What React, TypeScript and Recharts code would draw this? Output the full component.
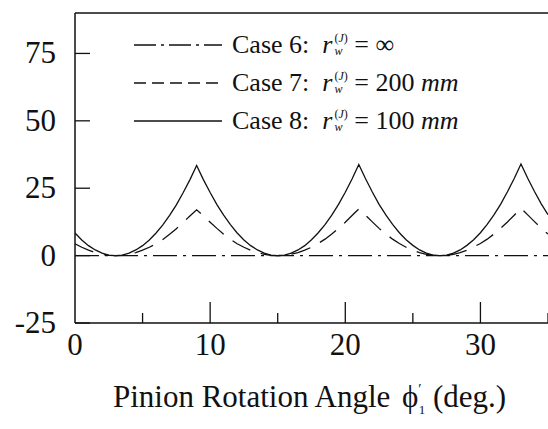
import React from "react";
import { LineChart, Line, XAxis, YAxis, ReferenceLine, Legend, Label } from "recharts";

// pinion rotation angle, deg.
const angle = [
  0, 0.5, 1, 1.5, 2, 2.5, 3, 3.5, 4, 4.5, 5, 5.5, 6, 6.5, 7, 7.5, 8, 8.5, 9, 9.5,
  10, 10.5, 11, 11.5, 12, 12.5, 13, 13.5, 14, 14.5, 15, 15.5, 16, 16.5, 17, 17.5, 18, 18.5, 19, 19.5,
  20, 20.5, 21, 21.5, 22, 22.5, 23, 23.5, 24, 24.5, 25, 25.5, 26, 26.5, 27, 27.5, 28, 28.5, 29, 29.5,
  30, 30.5, 31, 31.5, 32, 32.5, 33, 33.5, 34, 34.5, 35
];

const case6 = angle.map(() => 0);

const case7 = [
  4.4, 3.1, 2.0, 1.1, 0.5, 0.1, 0, 0.1, 0.5, 1.1, 2.0, 3.1, 4.4, 6.0, 7.9, 10.0, 12.3, 14.7, 17.0, 14.8,
  12.4, 10.1, 7.9, 6.0, 4.4, 3.1, 2.0, 1.1, 0.5, 0.1, 0, 0.1, 0.5, 1.1, 2.0, 3.1, 4.5, 6.1, 8.0, 10.1,
  12.4, 14.9, 17.3, 15.0, 12.5, 10.1, 8.0, 6.1, 4.5, 3.1, 2.0, 1.1, 0.5, 0.1, 0, 0.1, 0.5, 1.1, 2.0, 3.2,
  4.5, 6.1, 8.0, 10.2, 12.5, 15.0, 17.6, 15.1, 12.6, 10.2, 8.0
];

const case8 = [
  8.4, 5.8, 3.7, 2.1, 0.9, 0.2, 0, 0.2, 0.9, 2.1, 3.7, 5.8, 8.4, 11.4, 14.9, 18.8, 23.3, 28.1, 33.4, 28.2,
  23.4, 18.9, 15.0, 11.5, 8.4, 5.8, 3.7, 2.1, 0.9, 0.2, 0, 0.2, 0.9, 2.1, 3.7, 5.9, 8.5, 11.5, 15.0, 19.0,
  23.5, 28.4, 33.8, 28.5, 23.6, 19.0, 15.1, 11.6, 8.5, 5.9, 3.8, 2.1, 0.9, 0.2, 0, 0.2, 0.9, 2.1, 3.8, 5.9,
  8.5, 11.6, 15.1, 19.1, 23.7, 28.6, 34.0, 28.7, 23.8, 19.2, 15.2
];

const xTicks = [0, 5, 10, 15, 20, 25, 30, 35];
const xLabels = [0, 10, 20, 30];
const yTicks = [-25, 0, 25, 50, 75];

const data = angle.map((a, i) => ({ a, c6: case6[i], c7: case7[i], c8: case8[i] }));

const FONT = "'Liberation Serif', 'Times New Roman', serif";
const INK = "#111";

const series = [
  { key: "c6", num: 6, value: "∞", unit: false, dash: "24 6 3 6", legendDash: "22 5 3 5" },
  { key: "c7", num: 7, value: "200", unit: true, dash: "20 11", legendDash: "12 6" },
  { key: "c8", num: 8, value: "100", unit: true, dash: undefined, legendDash: undefined }
];

function YTick({ x, y, payload }: any) {
  return (
    <g>
      <line x1={x} x2={x + 15} y1={y} y2={y} stroke={INK} strokeWidth={1.3} />
      <text x={x - 19} y={y} dy={10} textAnchor="end" fontFamily={FONT} fontSize={31} fill={INK}>
        {payload.value}
      </text>
    </g>
  );
}

function XTick({ x, y, payload }: any) {
  const v = payload.value;
  const major = v % 10 === 0;
  const len = major ? 21 : 10;
  return (
    <g>
      {v !== 0 && <line x1={x} x2={x} y1={y} y2={y - len} stroke={INK} strokeWidth={1.3} />}
      {xLabels.includes(v) && (
        <text x={x} y={y} dy={32} textAnchor="middle" fontFamily={FONT} fontSize={31} fill={INK}>
          {v}
        </text>
      )}
    </g>
  );
}

function Title({ viewBox }: any) {
  const cx = viewBox.x + viewBox.width / 2 - 2;
  const by = viewBox.y + 84;
  return (
    <text x={cx} y={by} textAnchor="middle" fontFamily={FONT} fontSize={31} fill={INK}>
      Pinion Rotation Angle{" "}
      <tspan dx={4}>ϕ</tspan>
      <tspan dy={-13} fontSize={15}>′</tspan>
      <tspan dx={-3} dy={20} fontSize={13}>1</tspan>
      <tspan dy={-7}> (deg.)</tspan>
    </text>
  );
}

function Radius() {
  return (
    <>
      <i>r</i>
      <span
        style={{
          display: "inline-flex",
          flexDirection: "column",
          fontSize: 12,
          lineHeight: "13px",
          verticalAlign: "middle",
          marginLeft: 2,
          position: "relative",
          top: -2
        }}
      >
        <span>(<i>J</i>)</span>
        <i>w</i>
      </span>
    </>
  );
}

function LegendBox() {
  return (
    <div style={{ fontFamily: FONT, fontSize: 26, color: INK }}>
      {series.map((s) => (
        <div key={s.key} style={{ display: "flex", alignItems: "center", height: 38, whiteSpace: "nowrap" }}>
          <svg width={88} height={4} style={{ display: "block" }}>
            <line x1={0} x2={88} y1={2} y2={2} stroke={INK} strokeWidth={1.4} strokeDasharray={s.legendDash} />
          </svg>
          <span style={{ marginLeft: 10 }}>
            Case {s.num}:&nbsp;&nbsp;
            <Radius /> = {s.value}
            {s.unit && <i> mm</i>}
          </span>
        </div>
      ))}
    </div>
  );
}

export default function App() {
  return (
    <div style={{ position: "absolute", left: 0, top: 0, width: 548, height: 429, background: "#fff" }}>
      <LineChart width={548} height={429} data={data} margin={{ top: 13, right: 0, bottom: 0, left: 0 }}>
        <XAxis
          dataKey="a"
          type="number"
          domain={[0, 35]}
          ticks={xTicks}
          interval={0}
          height={106}
          tickSize={0}
          tickMargin={0}
          tickLine={false}
          tick={<XTick />}
          axisLine={{ stroke: INK, strokeWidth: 1.5 }}
          allowDataOverflow
        >
          <Label content={<Title />} />
        </XAxis>
        <YAxis
          type="number"
          domain={[-25, 90]}
          ticks={yTicks}
          interval={0}
          width={75}
          tickSize={0}
          tickMargin={0}
          tickLine={false}
          tick={<YTick />}
          axisLine={{ stroke: INK, strokeWidth: 1.5 }}
          allowDataOverflow
        />
        <ReferenceLine y={90} stroke={INK} strokeWidth={1.5} />
        <Legend
          layout="vertical"
          align="center"
          verticalAlign="middle"
          content={<LegendBox />}
          wrapperStyle={{ top: 26, left: 134, width: "auto" }}
        />
        {series.map((s) => (
          <Line
            key={s.key}
            dataKey={s.key}
            type="linear"
            stroke={INK}
            strokeWidth={1.3}
            strokeDasharray={s.dash}
            dot={false}
            activeDot={false}
            isAnimationActive={false}
          />
        ))}
      </LineChart>
    </div>
  );
}
